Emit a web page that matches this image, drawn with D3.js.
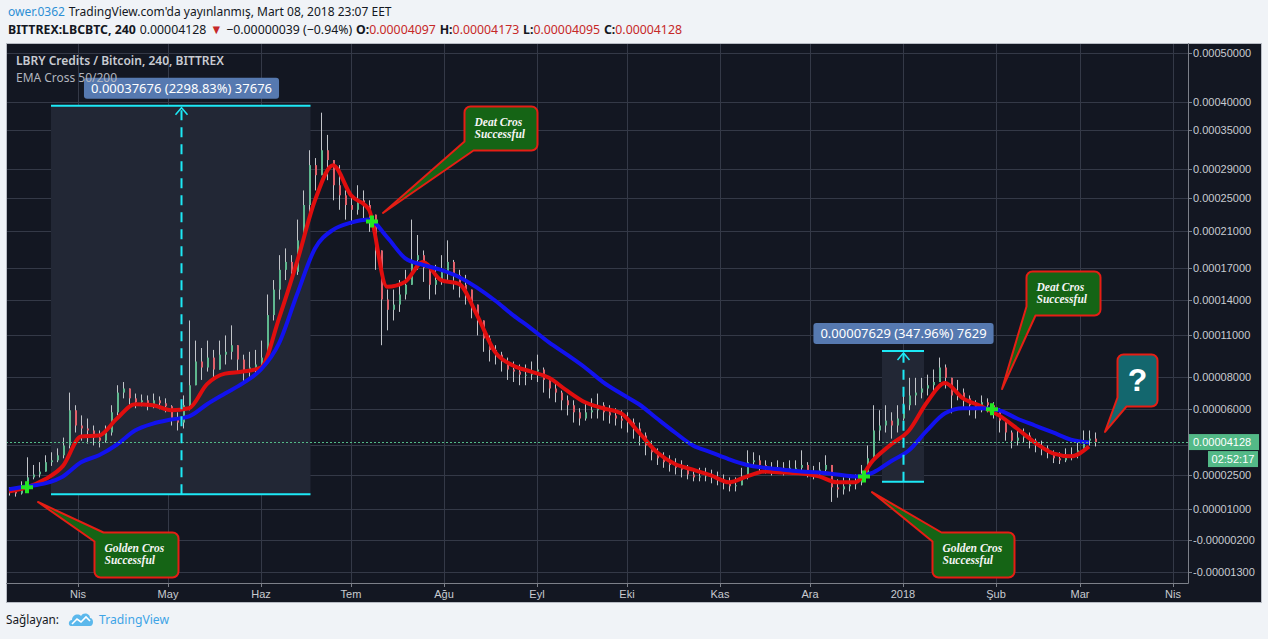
<!DOCTYPE html>
<html>
<head>
<meta charset="utf-8">
<script src="https://cdnjs.cloudflare.com/ajax/libs/d3/7.8.5/d3.min.js"></script>
<style>
  body { margin: 0; background: #f0f3f7; }
  svg { display: block; }
</style>
</head>
<body>
<svg id="chart" width="1268" height="639"></svg>
<script>
// LBC/BTC (Bittrex, 240) with EMA cross 50/200 -- all prices in satoshi

const firstCandle = "2017-03-09";   // one candle every 2 days
const firstOpen = 1850;
const closes = [
  1760,1670,1850,2390,2525,2660,3110,3200,3450,3950,
  5900,5025,4860,4750,4365,4200,4640,5780,6980,7240,
  6620,6380,6500,6260,6500,6320,6140,5420,5190,6200,
  7450,9060,8640,9340,8500,9550,9760,10250,9200,8360,
  8640,8850,9340,12650,14900,16800,17600,16600,19900,24100,
  29550,28100,31800,30300,26700,25350,24100,23500,24700,24100,
  22900,18800,14000,13100,13550,14450,15350,17800,18300,17000,
  15350,15800,16600,17600,16300,15350,14900,13550,12200,10760,
  9900,9550,9060,8500,8360,8150,8150,8360,8500,7800,
  7240,6980,6500,6200,5780,5420,5780,5900,6200,5780,
  5600,5420,5300,5190,4860,4475,3950,3600,3300,3110,
  2975,2840,2750,2525,2390,2435,2480,2390,2300,2120,
  1985,2030,2390,3110,3200,2975,2840,2750,2840,2750,
  2840,2840,2975,2660,2525,2750,2975,1940,1850,1985,
  2075,2165,2390,3300,4750,5025,5300,5025,5420,6200,
  6800,6980,7240,7450,7660,8640,7940,6800,6980,6620,
  6200,5900,6380,6200,5900,5300,4640,4200,4365,4475,
  4200,3950,3800,3600,3300,3200,3450,3450,3700,4200,
  4310,4128
];
const highs = [
  1940,1940,2210,3350,2975,3110,3450,3600,3800,4365,
  6980,6200,5600,5420,5025,4750,5025,6200,7450,7660,
  7240,6920,6860,6800,6920,6740,6620,6200,5780,6800,
  12200,10600,10040,10600,9900,10600,11000,11800,10250,9550,
  9760,9900,10600,14450,15800,18300,19020,18300,22300,26000,
  31800,30600,38060,34250,30300,29550,26000,25350,26700,26000,
  24700,22300,17800,14900,14900,15800,16800,22300,20500,18800,
  17300,17300,18300,19900,17800,16800,16300,14900,13550,12200,
  11000,10250,9760,9340,9060,8850,8850,9060,9550,8640,
  7940,7660,7100,6800,6500,6020,6380,6620,6920,6380,
  6200,6020,5900,5780,5420,5190,4640,4200,3800,3600,
  3450,3300,3200,2975,2750,2840,2840,2750,2660,2525,
  2390,2390,2840,3700,3600,3450,3200,3110,3200,3110,
  3200,3200,3700,3110,2930,3110,3450,2750,2300,2390,
  2525,2525,2975,3950,6200,5900,6200,5780,6200,6800,
  7940,7940,7940,8150,8500,9340,8850,7800,7800,7240,
  6800,6500,6800,6620,6380,6020,5420,4750,4860,4860,
  4640,4310,4200,3950,3700,3600,3800,3850,4200,4750,
  4750,4640
];
const lows = [
  1580,1535,1625,1850,2300,2390,2750,2930,3110,3300,
  3800,4640,4200,4050,3950,3850,4100,4475,5600,6620,
  6200,6020,6140,5900,6020,5960,5780,5025,4750,4860,
  5900,7450,7800,8360,7800,8500,8850,9200,8360,7660,
  7940,8150,8500,9060,12200,14000,15800,15350,16300,19900,
  22900,26000,28520,27400,24700,23500,22300,21700,22900,22060,
  20860,16800,10250,11400,12200,12920,14000,15350,16800,15620,
  14000,14450,15350,15800,14900,14180,13550,12380,11000,9760,
  9060,8850,8360,7800,7660,7450,7450,7800,7660,6980,
  6620,6380,5900,5600,5190,5025,5300,5420,5420,5300,
  5135,5025,4860,4640,4310,3950,3450,3200,2975,2840,
  2660,2525,2390,2300,2210,2210,2210,2120,2030,1850,
  1760,1760,2030,2300,2840,2660,2570,2480,2570,2480,
  2570,2525,2660,2390,2300,2390,2660,1310,1490,1625,
  1760,1850,2030,2525,3200,4200,4640,4310,4640,5300,
  5900,6200,6620,6800,6980,7800,7240,5720,6500,6020,
  5600,5420,5780,5780,5420,4640,4200,3800,3950,4100,
  3800,3600,3450,3300,3065,3020,3110,3200,3300,3800,
  3950,3900
];

const emaStart = "2017-03-09";     // one reading every 6 days
const emaFast = [
  1760,1940,2300,2930,4420,4475,5420,6260,6200,5900,
  6020,7520,8220,8360,8640,12380,17600,24700,29550,25350,
  23500,15170,15620,17600,15800,15440,12650,9760,8780,8360,
  7940,7100,6380,6020,5720,4640,3600,3020,2750,2480,
  2165,2435,2660,2615,2570,2435,2165,2165,3200,4000,
  4750,6380,7590,6620,6140,5600,4860,4100,3550,3400,
  3900
];
const emaSlow = [
  1850,1985,2120,2435,3110,3450,4000,4750,5135,5360,
  5540,6260,6920,7590,8500,10390,14450,19020,21100,21940,
  22300,20260,18000,17300,16800,16100,15080,13910,12650,11560,
  10460,9550,8640,7660,6920,6260,5420,4640,3950,3600,
  3250,2975,2840,2750,2660,2615,2525,2435,2615,3155,
  3700,4750,5720,6020,6020,5900,5420,5025,4640,4255,
  4100
];

const crossDates = ["2017-03-15", "2017-07-08", "2017-12-19", "2018-01-30T16:00"];
const crossPrices = [1940, 22060, 2435, 5960];

const priceTicks = [50000, 40000, 35000, 29000, 25000, 21000, 17000, 14000, 11000, 8000, 6000, 4000, 2500, 1000, -200, -1300];
const monthDates = ["2017-04-01","2017-05-01","2017-06-01","2017-07-01","2017-08-01","2017-09-01","2017-10-01",
                    "2017-11-01","2017-12-01","2018-01-01","2018-02-01","2018-03-01","2018-04-01"];
const monthLabels = ["Nis","May","Haz","Tem","Ağu","Eyl","Eki","Kas","Ara","2018","Şub","Mar","Nis"];

const lastPrice = 4128;
const countdown = "02:52:17";

// date/price range tool
const rangeFrom = ["2017-03-23", "2017-12-25"];
const rangeTo = ["2017-06-17T12:00", "2018-01-08"];
const rangeLow = [1639, 2192];
const rangeHigh = [39315, 9821];
const rangeLabels = ["0.00037676 (2298.83%) 37676", "0.00007629 (347.96%) 7629"];

// callouts
const noteTexts = [["Golden Cros", "Successful"], ["Deat Cros", "Successful"], ["Golden Cros", "Successful"], ["Deat Cros", "Successful"], ["?"]];
const noteTipDates = ["2017-03-18T16:00", "2017-07-11T16:00", "2017-12-21T16:00", "2018-02-03", "2018-03-09T08:00"];
const noteTipPrices = [1306, 23100, 1730, 7210, 4670];

// header pieces: text, weight, colour
const headLine1 = [["ower.0362", "normal", "#2d8fd5"], ["TradingView.com'da yayınlanmış, Mart 08, 2018 23:07 EET", "normal", null]];
const headLine2 = [
  ["BITTREX:LBCBTC, 240", "bold", null], ["0.00004128", "normal", null], ["▼", "normal", "#c62828"],
  ["−0.00000039 (−0.94%)", "normal", null],
  ["O:", "bold", null], ["0.00004097", "normal", "#c62828"],
  ["H:", "bold", null], ["0.00004173", "normal", "#c62828"],
  ["L:", "bold", null], ["0.00004095", "normal", "#c62828"],
  ["C:", "bold", null], ["0.00004128", "normal", "#c62828"]
];

// ---- layout ----
const noteLayout = [
  {dx: 56, dy: 30, w: 84, h: 45, corner: "tl", fill: "#156415"},
  {dx: 81, dy: -107, w: 73, h: 44, corner: "bl", fill: "#156415"},
  {dx: 60, dy: 40, w: 82, h: 45, corner: "tl", fill: "#156415"},
  {dx: 24, dy: -118, w: 74, h: 44, corner: "bl", fill: "#156415"},
  {dx: 12, dy: -78, w: 40, h: 52, corner: "bl", fill: "#13676e"}
];
const plot = {left: 6, top: 43, right: 1188, bottom: 583};
const panel = {left: 6, top: 43, right: 1261, bottom: 602};
const OFF = 10000;   // TradingView log scale shifts prices before taking the log

const day = s => new Date(s.length > 10 ? s + ":00Z" : s + "T00:00:00Z");

const x = d3.scaleUtc().domain([day("2017-04-01"), day("2018-04-01")]).range([78, 1173]);
const yLog = d3.scaleLog().domain([50000 + OFF, 2500 + OFF]).range([53, 475]);
const y = v => yLog(v + OFF);
const fmt = v => (v * 1e-8).toFixed(8);

const svg = d3.select("#chart");

// header
const head = svg.append("g")
    .attr("font-family", "'Noto Sans', sans-serif")
    .attr("font-size", 13)
    .attr("fill", "#131722");

function textRow(parts, x0, y0, width) {
  const g = head.append("g");
  const gap = 4;
  let cx = 0;
  parts.forEach((p, i) => {
    if (i && !parts[i - 1][0].endsWith(":")) cx += gap;
    const t = g.append("text").attr("x", cx).attr("y", 0)
        .attr("font-weight", p[1]).text(p[0]);
    if (p[2]) t.attr("fill", p[2]);
    cx += t.node().getComputedTextLength();
  });
  g.attr("transform", `translate(${x0},${y0}) scale(${width / cx},1)`);
}
textRow(headLine1, 8, 16, 384);
textRow(headLine2, 8, 34, 674);

// chart panel
svg.append("rect")
    .attr("x", panel.left + 0.5).attr("y", panel.top + 0.5)
    .attr("width", panel.right - panel.left).attr("height", panel.bottom - panel.top)
    .attr("fill", "#131722").attr("stroke", "#b8bcc4");

svg.append("clipPath").attr("id", "plotClip")
  .append("rect")
    .attr("x", plot.left + 1).attr("y", plot.top + 1)
    .attr("width", plot.right - plot.left - 1).attr("height", plot.bottom - plot.top - 1);

const grid = svg.append("g").attr("stroke", "#343947").attr("stroke-width", 1);
grid.selectAll(".hg").data(priceTicks).enter().append("line")
    .attr("x1", plot.left + 1).attr("x2", plot.right)
    .attr("y1", d => Math.round(y(d)) + 0.5).attr("y2", d => Math.round(y(d)) + 0.5);
grid.selectAll(".vg").data(monthDates).enter().append("line")
    .attr("y1", plot.top + 1).attr("y2", plot.bottom)
    .attr("x1", d => Math.round(x(day(d))) + 0.5).attr("x2", d => Math.round(x(day(d))) + 0.5);

const chartGroup = svg.append("g").attr("clip-path", "url(#plotClip)");

// range tool background
rangeFrom.forEach((f, i) => {
  const x0 = x(day(f)), x1 = x(day(rangeTo[i]));
  chartGroup.append("rect")
      .attr("x", x0).attr("y", y(rangeHigh[i]))
      .attr("width", x1 - x0).attr("height", y(rangeLow[i]) - y(rangeHigh[i]))
      .attr("fill", "#222735");
});

// candles
const candles = closes.map((c, i) => {
  const o = i ? closes[i - 1] : firstOpen;
  return {
    t: d3.utcDay.offset(day(firstCandle), 2 * i),
    o: o, c: c,
    h: Math.max(highs[i], o, c),
    l: Math.min(lows[i], o, c)
  };
});

const candleGroup = chartGroup.append("g");
candleGroup.selectAll(".wick").data(candles).enter().append("line")
    .attr("x1", d => Math.round(x(d.t)) + 0.5).attr("x2", d => Math.round(x(d.t)) + 0.5)
    .attr("y1", d => y(d.h)).attr("y2", d => y(d.l))
    .attr("stroke", "#c2c5ca").attr("stroke-width", 1);
candleGroup.selectAll(".body").data(candles).enter().append("rect")
    .attr("x", d => Math.round(x(d.t)))
    .attr("y", d => y(Math.max(d.o, d.c)))
    .attr("width", 2)
    .attr("height", d => Math.max(1, y(Math.min(d.o, d.c)) - y(Math.max(d.o, d.c))))
    .attr("fill", d => d.c >= d.o ? "#5fb88f" : "#e0606a");

// EMA lines
const emaLine = d3.line()
    .x((d, i) => x(d3.utcDay.offset(day(emaStart), 6 * i)))
    .y(d => y(d))
    .curve(d3.curveMonotoneX);

chartGroup.append("path").datum(emaFast)
    .attr("d", emaLine).attr("fill", "none")
    .attr("stroke", "#e00e0e").attr("stroke-width", 4).attr("stroke-linejoin", "round");
chartGroup.append("path").datum(emaSlow)
    .attr("d", emaLine).attr("fill", "none")
    .attr("stroke", "#1212ee").attr("stroke-width", 4).attr("stroke-linejoin", "round");

// last price line
chartGroup.append("line")
    .attr("x1", plot.left).attr("x2", plot.right)
    .attr("y1", Math.round(y(lastPrice)) + 0.5).attr("y2", Math.round(y(lastPrice)) + 0.5)
    .attr("stroke", "#53b987").attr("stroke-dasharray", "2,2");

// range tool lines and labels
rangeFrom.forEach((f, i) => {
  const x0 = x(day(f)), x1 = x(day(rangeTo[i]));
  const yt = y(rangeHigh[i]), yb = y(rangeLow[i]);
  const xm = Math.round((x0 + x1) / 2) + 0.5;
  const g = chartGroup.append("g").attr("stroke", "#1de9f6").attr("fill", "none");
  g.append("line").attr("x1", x0).attr("x2", x1).attr("y1", yt).attr("y2", yt).attr("stroke-width", 2);
  g.append("line").attr("x1", x0).attr("x2", x1).attr("y1", yb).attr("y2", yb).attr("stroke-width", 2);
  g.append("line").attr("x1", xm).attr("x2", xm).attr("y1", yb).attr("y2", yt + 2)
      .attr("stroke-width", 2).attr("stroke-dasharray", "10,7");
  g.append("path").attr("d", `M${xm - 6},${yt + 9}L${xm},${yt + 2}L${xm + 6},${yt + 9}`)
      .attr("stroke-width", 1.5);

  const lbl = svg.append("g");
  const txt = lbl.append("text")
      .attr("x", xm).attr("y", yt - 13)
      .attr("text-anchor", "middle")
      .attr("font-family", "'Noto Sans', sans-serif").attr("font-size", 13)
      .attr("fill", "#ffffff")
      .text(rangeLabels[i]);
  const tw = txt.node().getComputedTextLength();
  lbl.insert("rect", "text")
      .attr("x", xm - tw / 2 - 7).attr("y", yt - 28)
      .attr("width", tw + 14).attr("height", 21).attr("rx", 3)
      .attr("fill", "#5679b0");
});

// crossover markers
svg.append("g").selectAll("path").data(crossDates).enter().append("path")
    .attr("transform", (d, i) => `translate(${x(day(d))},${y(crossPrices[i])})`)
    .attr("d", "M-2,-6h4v4h4v4h-4v4h-4v-4h-4v-4h4z")
    .attr("fill", "#22e622");

// callouts
function notePath(bx, by, w, h, tx, ty, corner) {
  const r = 6, a = 9;
  if (corner === "tl") {
    return `M${bx + a},${by}H${bx + w - r}A${r},${r} 0 0 1 ${bx + w},${by + r}V${by + h - r}` +
      `A${r},${r} 0 0 1 ${bx + w - r},${by + h}H${bx + r}A${r},${r} 0 0 1 ${bx},${by + h - r}` +
      `V${by + a}L${tx},${ty}Z`;
  }
  return `M${bx + r},${by}H${bx + w - r}A${r},${r} 0 0 1 ${bx + w},${by + r}V${by + h - r}` +
    `A${r},${r} 0 0 1 ${bx + w - r},${by + h}H${bx + a}L${tx},${ty}L${bx},${by + h - a}` +
    `V${by + r}A${r},${r} 0 0 1 ${bx + r},${by}Z`;
}

noteTexts.forEach((lines, i) => {
  const L = noteLayout[i];
  const tx = x(day(noteTipDates[i])), ty = y(noteTipPrices[i]);
  const bx = Math.round(tx + L.dx) + 0.5, by = Math.round(ty + L.dy) + 0.5;
  const g = svg.append("g");
  g.append("path")
      .attr("d", notePath(bx, by, L.w, L.h, tx, ty, L.corner))
      .attr("fill", L.fill).attr("stroke", "#e61e14").attr("stroke-width", 2)
      .attr("stroke-linejoin", "round");
  if (lines.length === 1) {
    g.append("text")
        .attr("x", bx + L.w / 2).attr("y", by + 36)
        .attr("text-anchor", "middle")
        .attr("font-family", "'Liberation Sans', Arial, sans-serif")
        .attr("font-weight", "bold").attr("font-size", 32)
        .attr("fill", "#ffffff").text(lines[0]);
  } else {
    lines.forEach((s, j) => {
      g.append("text")
          .attr("x", bx + 10).attr("y", by + 19 + j * 12.5)
          .attr("font-family", "'Liberation Serif', 'Times New Roman', serif")
          .attr("font-style", "italic").attr("font-weight", "bold").attr("font-size", 11.5)
          .attr("fill", "#f4f4f4").text(s);
    });
  }
});

// axes
const axis = svg.append("g").attr("stroke", "#7c8089");
axis.append("line").attr("x1", plot.right + 0.5).attr("x2", plot.right + 0.5)
    .attr("y1", plot.top).attr("y2", plot.bottom + 0.5);
axis.append("line").attr("x1", plot.left).attr("x2", plot.right + 0.5)
    .attr("y1", plot.bottom + 0.5).attr("y2", plot.bottom + 0.5);
axis.selectAll(".pt").data(priceTicks).enter().append("line")
    .attr("x1", plot.right).attr("x2", plot.right + 4)
    .attr("y1", d => Math.round(y(d)) + 0.5).attr("y2", d => Math.round(y(d)) + 0.5);
axis.selectAll(".tt").data(monthDates).enter().append("line")
    .attr("y1", plot.bottom).attr("y2", plot.bottom + 4)
    .attr("x1", d => Math.round(x(day(d))) + 0.5).attr("x2", d => Math.round(x(day(d))) + 0.5);

const axisText = svg.append("g")
    .attr("font-family", "'Liberation Sans', Arial, sans-serif")
    .attr("font-size", 11).attr("fill", "#c8cbd1");
axisText.selectAll(".pl").data(priceTicks.filter(d => d !== 4000)).enter().append("text")
    .attr("x", plot.right + 5).attr("y", d => y(d) + 4)
    .text(d => fmt(d));
axisText.selectAll(".ml").data(monthDates).enter().append("text")
    .attr("x", d => x(day(d))).attr("y", 598)
    .attr("text-anchor", "middle")
    .text((d, i) => monthLabels[i]);

// last price tag + countdown
const ly = y(lastPrice);
svg.append("rect").attr("x", plot.right + 1).attr("y", ly - 8)
    .attr("width", 70).attr("height", 16).attr("fill", "#53b987");
svg.append("rect").attr("x", 1208).attr("y", ly + 9)
    .attr("width", 50).attr("height", 16).attr("fill", "#53b987");
svg.append("text").attr("x", plot.right + 5).attr("y", ly + 4)
    .attr("font-family", "'Liberation Sans', Arial, sans-serif").attr("font-size", 11)
    .attr("fill", "#ffffff").text(fmt(lastPrice));
svg.append("text").attr("x", 1233).attr("y", ly + 21).attr("text-anchor", "middle")
    .attr("font-family", "'Liberation Sans', Arial, sans-serif").attr("font-size", 11)
    .attr("fill", "#ffffff").text(countdown);

// chart title
svg.append("text").attr("x", 16).attr("y", 65)
    .attr("font-family", "'Noto Sans', sans-serif").attr("font-size", 13).attr("font-weight", 600)
    .attr("fill", "#c8cbd2")
    .attr("textLength", 208).attr("lengthAdjust", "spacingAndGlyphs")
    .text("LBRY Credits / Bitcoin, 240, BITTREX");
svg.append("text").attr("x", 16).attr("y", 82)
    .attr("font-family", "'Noto Sans', sans-serif").attr("font-size", 13)
    .attr("fill", "#b2b5be")
    .attr("textLength", 101).attr("lengthAdjust", "spacingAndGlyphs")
    .text("EMA Cross 50/200");

// footer
svg.append("text").attr("x", 6).attr("y", 624)
    .attr("font-family", "'Noto Sans', sans-serif").attr("font-size", 13)
    .attr("fill", "#131722")
    .attr("textLength", 53).attr("lengthAdjust", "spacingAndGlyphs")
    .text("Sağlayan:");
const logo = svg.append("g").attr("transform", "translate(69,611)");
logo.append("path")
    .attr("d", "M2,15C-1,15 -1,9 3,9C3,4 9,2 12,5C14,1 21,2 21,7C25,7 25,15 21,15Z")
    .attr("fill", "#5bb8ec");
logo.append("path")
    .attr("d", "M3,13L8,8L12,11L17,6L21,10")
    .attr("fill", "none").attr("stroke", "#ffffff").attr("stroke-width", 1.6);
svg.append("text").attr("x", 99).attr("y", 624)
    .attr("font-family", "'Noto Sans', sans-serif").attr("font-size", 13)
    .attr("fill", "#3ea4e6")
    .attr("textLength", 70).attr("lengthAdjust", "spacingAndGlyphs")
    .text("TradingView");
</script>
</body>
</html>
